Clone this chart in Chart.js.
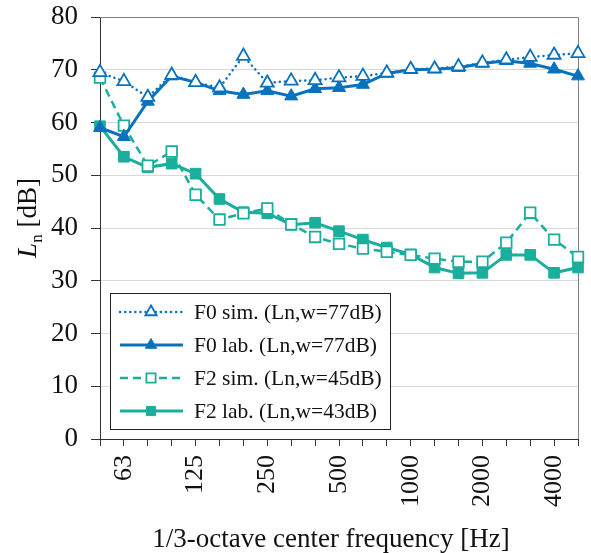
<!DOCTYPE html>
<html>
<head>
<meta charset="utf-8">
<script src="https://cdn.jsdelivr.net/npm/chart.js@4"></script>
<style>
html, body { margin: 0; padding: 0; background: #fff; }
#wrap { width: 591px; height: 553px; }
</style>
</head>
<body>
<div id="wrap"><canvas id="chart1"></canvas></div>
<script>
// 1/3-octave bands, 50 Hz .. 5 kHz
freqs = ['50', '63', '80', '100', '125', '160', '200', '250', '315', '400', '500',
	'630', '800', '1000', '1250', '1600', '2000', '2500', '3150', '4000', '5000']
// only the octave bands get a label under the axis
tickLabels = ['', '63', '', '', '125', '', '', '250', '', '', '500',
	'', '', '1000', '', '', '2000', '', '', '4000', '']
yTicks = [0, 10, 20, 30, 40, 50, 60, 70, 80]

f0Sim = [69.5, 67.8, 64.8, 69.0, 67.6, 66.6, 72.6, 67.5, 67.9, 68.0, 68.5,
	68.8, 69.4, 70.1, 70.2, 70.6, 71.3, 71.9, 72.4, 72.8, 73.1]
f0Lab = [59.0, 57.3, 64.0, 68.8, 67.6, 66.0, 65.3, 66.0, 65.0, 66.4, 66.6,
	67.2, 69.3, 70.0, 70.1, 70.4, 71.2, 71.7, 71.2, 70.1, 68.8]
f2Sim = [68.5, 59.4, 51.8, 54.5, 46.3, 41.6, 42.8, 43.7, 40.7, 38.3, 37.0,
	36.1, 35.5, 34.9, 34.2, 33.6, 33.6, 37.2, 42.9, 37.8, 34.5]
f2Lab = [59.3, 53.5, 51.5, 52.2, 50.3, 45.5, 43.0, 42.8, 40.6, 41.0, 39.4,
	37.8, 36.3, 35.0, 32.5, 31.4, 31.5, 34.9, 34.9, 31.5, 32.5]

seriesNames = ['F0 sim. (Ln,w=77dB)', 'F0 lab. (Ln,w=77dB)',
	'F2 sim. (Ln,w=45dB)', 'F2 lab. (Ln,w=43dB)']

blue = '#0a72bd'
teal = '#1aae9c'
serif = '"Liberation Serif", "Times New Roman", serif'

// grey box around the plot (top and right edges)
framePlugin = {
	id: 'frame',
	beforeDatasetsDraw(chart) {
		const a = chart.chartArea
		const c = chart.ctx
		c.save()
		c.strokeStyle = '#808080'
		c.lineWidth = 1
		c.beginPath()
		c.moveTo(a.left, a.top + 0.5)
		c.lineTo(a.right + 0.5, a.top + 0.5)
		c.lineTo(a.right + 0.5, a.bottom)
		c.stroke()
		c.restore()
	}
}

// axis titles, the y one has an italic L with subscript n
titlePlugin = {
	id: 'titles',
	afterDraw(chart) {
		const a = chart.chartArea
		const c = chart.ctx
		c.save()
		c.fillStyle = '#111'
		c.textBaseline = 'alphabetic'
		c.font = '27px ' + serif
		c.textAlign = 'center'
		c.fillText('1/3-octave center frequency [Hz]', 331, 547)

		c.translate(36, 218)
		c.rotate(-Math.PI / 2)
		c.textAlign = 'left'
		const big = '27px ' + serif
		const small = '17px ' + serif
		c.font = 'italic ' + big
		const wL = c.measureText('L').width
		c.font = small
		const wn = c.measureText('n').width
		c.font = big
		const wRest = c.measureText(' [dB]').width
		let x = -(wL + wn + wRest) / 2
		c.font = 'italic ' + big
		c.fillText('L', x, 0)
		x += wL
		c.font = small
		c.fillText('n', x, 6)
		x += wn
		c.font = big
		c.fillText(' [dB]', x, 0)
		c.restore()
	}
}

// legend box with line + marker samples, drawn inside the plot
legendPlugin = {
	id: 'boxLegend',
	afterDatasetsDraw(chart) {
		const c = chart.ctx
		const bx = 110, by = 293, bw = 280, bh = 136
		c.save()
		c.fillStyle = '#fff'
		c.fillRect(bx, by, bw, bh)
		c.strokeStyle = '#222'
		c.lineWidth = 1
		c.strokeRect(bx + 0.5, by + 0.5, bw, bh)
		chart.data.datasets.forEach((ds, i) => {
			const y = by + 19 + i * 33
			c.strokeStyle = ds.borderColor
			c.lineWidth = ds.borderWidth
			c.lineCap = ds.borderCapStyle || 'butt'
			c.setLineDash(ds.borderDash || [])
			c.beginPath()
			c.moveTo(120, y)
			c.lineTo(183, y)
			c.stroke()
			c.setLineDash([])
			c.fillStyle = ds.pointBackgroundColor
			c.lineWidth = ds.pointBorderWidth
			Chart.helpers.drawPoint(c, {
				pointStyle: ds.pointStyle,
				radius: ds.pointRadius - 1,
				rotation: 0,
				borderWidth: ds.pointBorderWidth
			}, 151, y)
			c.fillStyle = '#111'
			c.font = '21.5px ' + serif
			c.textAlign = 'left'
			c.textBaseline = 'middle'
			c.fillText(ds.label, 194, y + 1)
		})
		c.restore()
	}
}

function setup() {
	const ctx1 = document.getElementById('chart1').getContext('2d')
	const myChart = new Chart(ctx1, {
		type: 'line',
		data: {
			labels: freqs,
			datasets: [{
				label: seriesNames[0],
				data: f0Sim,
				borderColor: blue,
				borderWidth: 2.5,
				borderDash: [0.1, 5],
				borderCapStyle: 'round',
				pointStyle: 'triangle',
				pointRadius: 7.5,
				pointBorderWidth: 1.8,
				pointBackgroundColor: '#fff',
				pointBorderColor: blue
			}, {
				label: seriesNames[1],
				data: f0Lab,
				borderColor: blue,
				borderWidth: 3,
				pointStyle: 'triangle',
				pointRadius: 7.5,
				pointBorderWidth: 1,
				pointBackgroundColor: blue,
				pointBorderColor: blue
			}, {
				label: seriesNames[2],
				data: f2Sim,
				borderColor: teal,
				borderWidth: 2.5,
				borderDash: [8, 5],
				pointStyle: 'rect',
				pointRadius: 7.5,
				pointBorderWidth: 1.8,
				pointBackgroundColor: '#fff',
				pointBorderColor: teal
			}, {
				label: seriesNames[3],
				data: f2Lab,
				borderColor: teal,
				borderWidth: 3,
				pointStyle: 'rect',
				pointRadius: 7.5,
				pointBorderWidth: 1,
				pointBackgroundColor: teal,
				pointBorderColor: teal
			}]
		},
		options: {
			responsive: true,
			maintainAspectRatio: false,
			animation: false,
			devicePixelRatio: 1,
			layout: { padding: { left: 0, right: 13, top: 17, bottom: 0 } },
			plugins: {
				legend: { display: false },
				tooltip: { enabled: false }
			},
			scales: {
				x: {
					offset: false,
					afterFit: s => {
						s.height = 114
						s.paddingLeft = 0
						s.paddingRight = 0
					},
					grid: {
						drawOnChartArea: false,
						drawTicks: true,
						tickLength: 7,
						tickColor: '#333'
					},
					border: { display: true, color: '#333', width: 1 },
					ticks: {
						autoSkip: false,
						minRotation: 90,
						maxRotation: 90,
						padding: 9,
						color: '#111',
						font: { family: serif, size: 26 },
						callback: (v, i) => tickLabels[i]
					}
				},
				y: {
					min: 0,
					max: 80,
					afterFit: s => {
						s.width = 100
						s.paddingTop = 0
						s.paddingBottom = 0
					},
					afterBuildTicks: s => { s.ticks = yTicks.map(v => ({ value: v })) },
					grid: {
						color: ctx => ctx.tick && ctx.tick.value === 80 ? '#808080' : '#d9d9d9',
						lineWidth: 1,
						drawTicks: true,
						tickLength: 9,
						tickColor: '#333'
					},
					border: { display: true, color: '#333', width: 1 },
					ticks: {
						padding: 13,
						color: '#111',
						font: { family: serif, size: 27 }
					}
				}
			}
		},
		plugins: [framePlugin, legendPlugin, titlePlugin]
	})
}

setup()
</script>
</body>
</html>
